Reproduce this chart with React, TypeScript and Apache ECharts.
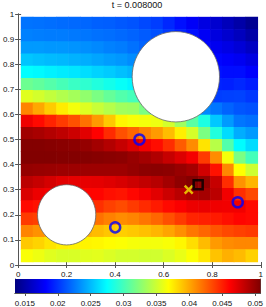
import React, { useEffect, useRef } from "react";
import * as echarts from "echarts";

const titleText = "t = 0.008000";

// cell centres of the sampled field (x left→right, y top→bottom)
const gridX = [0.037, 0.086, 0.134, 0.183, 0.232, 0.281, 0.329, 0.378, 0.427, 0.476, 0.524, 0.573, 0.622, 0.671, 0.719, 0.768, 0.817, 0.866, 0.914, 0.963];
const gridY = [0.963, 0.914, 0.866, 0.817, 0.768, 0.719, 0.671, 0.622, 0.573, 0.524, 0.476, 0.427, 0.378, 0.329, 0.281, 0.232, 0.183, 0.134, 0.086, 0.037];
const cellSize = 0.04875;

const fieldValues = [
  [0.0224, 0.0223, 0.0222, 0.0221, 0.0220, 0.0219, 0.0217, 0.0216, 0.0214, 0.0212, 0.0208, 0.0204, 0.0196, 0.0187, 0.0179, 0.0171, 0.0164, 0.0157, 0.0150, 0.0142],
  [0.0229, 0.0228, 0.0227, 0.0227, 0.0226, 0.0225, 0.0223, 0.0222, 0.0220, 0.0218, 0.0215, 0.0211, 0.0203, 0.0195, 0.0187, 0.0178, 0.0170, 0.0164, 0.0158, 0.0150],
  [0.0238, 0.0238, 0.0237, 0.0237, 0.0236, 0.0234, 0.0232, 0.0229, 0.0227, 0.0223, 0.0218, 0.0213, 0.0205, 0.0198, 0.0190, 0.0183, 0.0176, 0.0172, 0.0167, 0.0160],
  [0.0254, 0.0252, 0.0250, 0.0249, 0.0247, 0.0245, 0.0242, 0.0239, 0.0237, 0.0233, 0.0222, 0.0215, 0.0207, 0.0200, 0.0193, 0.0187, 0.0183, 0.0180, 0.0177, 0.0171],
  [0.0275, 0.0273, 0.0270, 0.0268, 0.0266, 0.0263, 0.0259, 0.0256, 0.0252, 0.0248, 0.0235, 0.0225, 0.0215, 0.0207, 0.0200, 0.0193, 0.0188, 0.0186, 0.0186, 0.0181],
  [0.0315, 0.0311, 0.0306, 0.0301, 0.0296, 0.0292, 0.0287, 0.0282, 0.0277, 0.0272, 0.0250, 0.0235, 0.0222, 0.0212, 0.0205, 0.0198, 0.0194, 0.0193, 0.0196, 0.0192],
  [0.0357, 0.0352, 0.0346, 0.0340, 0.0335, 0.0328, 0.0320, 0.0312, 0.0305, 0.0300, 0.0280, 0.0255, 0.0240, 0.0228, 0.0220, 0.0212, 0.0204, 0.0205, 0.0206, 0.0202],
  [0.0413, 0.0400, 0.0387, 0.0375, 0.0364, 0.0356, 0.0348, 0.0341, 0.0334, 0.0332, 0.0320, 0.0300, 0.0280, 0.0260, 0.0245, 0.0232, 0.0225, 0.0218, 0.0213, 0.0211],
  [0.0467, 0.0458, 0.0449, 0.0440, 0.0432, 0.0420, 0.0405, 0.0388, 0.0371, 0.0366, 0.0364, 0.0362, 0.0352, 0.0333, 0.0308, 0.0285, 0.0255, 0.0238, 0.0225, 0.0222],
  [0.0496, 0.0493, 0.0489, 0.0485, 0.0480, 0.0472, 0.0461, 0.0446, 0.0432, 0.0424, 0.0414, 0.0405, 0.0392, 0.0374, 0.0353, 0.0320, 0.0287, 0.0262, 0.0245, 0.0238],
  [0.0506, 0.0506, 0.0505, 0.0504, 0.0503, 0.0500, 0.0495, 0.0489, 0.0482, 0.0474, 0.0465, 0.0457, 0.0445, 0.0428, 0.0410, 0.0378, 0.0342, 0.0305, 0.0274, 0.0262],
  [0.0507, 0.0507, 0.0507, 0.0506, 0.0506, 0.0506, 0.0505, 0.0504, 0.0503, 0.0499, 0.0495, 0.0490, 0.0482, 0.0474, 0.0465, 0.0440, 0.0410, 0.0365, 0.0320, 0.0300],
  [0.0500, 0.0499, 0.0498, 0.0497, 0.0497, 0.0497, 0.0497, 0.0497, 0.0497, 0.0500, 0.0503, 0.0504, 0.0503, 0.0499, 0.0494, 0.0478, 0.0455, 0.0412, 0.0368, 0.0350],
  [0.0486, 0.0482, 0.0477, 0.0472, 0.0470, 0.0470, 0.0471, 0.0473, 0.0476, 0.0480, 0.0484, 0.0488, 0.0495, 0.0502, 0.0506, 0.0500, 0.0482, 0.0445, 0.0408, 0.0395],
  [0.0475, 0.0468, 0.0465, 0.0462, 0.0460, 0.0460, 0.0460, 0.0456, 0.0454, 0.0459, 0.0465, 0.0472, 0.0480, 0.0487, 0.0492, 0.0494, 0.0486, 0.0466, 0.0445, 0.0435],
  [0.0458, 0.0455, 0.0452, 0.0450, 0.0448, 0.0446, 0.0444, 0.0438, 0.0434, 0.0440, 0.0446, 0.0452, 0.0458, 0.0463, 0.0468, 0.0469, 0.0467, 0.0466, 0.0466, 0.0458],
  [0.0440, 0.0438, 0.0433, 0.0430, 0.0428, 0.0425, 0.0420, 0.0414, 0.0410, 0.0413, 0.0418, 0.0424, 0.0432, 0.0440, 0.0448, 0.0450, 0.0452, 0.0456, 0.0460, 0.0458],
  [0.0413, 0.0408, 0.0403, 0.0400, 0.0398, 0.0396, 0.0393, 0.0389, 0.0386, 0.0388, 0.0391, 0.0395, 0.0401, 0.0409, 0.0418, 0.0424, 0.0430, 0.0435, 0.0438, 0.0440],
  [0.0388, 0.0384, 0.0378, 0.0374, 0.0373, 0.0372, 0.0371, 0.0369, 0.0367, 0.0365, 0.0364, 0.0364, 0.0366, 0.0371, 0.0380, 0.0393, 0.0405, 0.0410, 0.0412, 0.0412],
  [0.0366, 0.0362, 0.0357, 0.0354, 0.0354, 0.0357, 0.0358, 0.0355, 0.0352, 0.0352, 0.0351, 0.0351, 0.0355, 0.0360, 0.0367, 0.0377, 0.0390, 0.0397, 0.0393, 0.0385],
];

// obstacles: [cx, cy, r]
const obstacles = [
  [0.2, 0.2, 0.12],
  [0.65, 0.75, 0.18],
];
const sensors = [
  [0.5, 0.5],
  [0.4, 0.15],
  [0.905, 0.25],
];
const estimate = [[0.703, 0.3]];
const truth = [[0.742, 0.32]];

const colorMin = 0.0135;
const colorMax = 0.0508;
const colorTicks = [0.015, 0.02, 0.025, 0.03, 0.035, 0.04, 0.045, 0.05];

const jet = ["#00007f", "#0000ff", "#007fff", "#00ffff", "#7fff7f", "#ffff00", "#ff7f00", "#ff0000", "#7f0000"];

const FONT = "Liberation Sans, Arial, sans-serif";
const AXIS_COLOR = "#555";

export default function App() {
  const ref = useRef<HTMLDivElement>(null);

  useEffect(() => {
    const chart = echarts.init(ref.current!, null, { renderer: "svg" });

    const heat: number[][] = [];
    gridY.forEach((y, r) => {
      gridX.forEach((x, c) => {
        heat.push([x, y, fieldValues[r][c]]);
      });
    });

    const fmt1 = (v: number) => String(Math.round(v * 10) / 10);

    const baseAxis = {
      axisLine: { show: true, lineStyle: { color: AXIS_COLOR, width: 1 } },
      axisTick: { show: true, inside: true, length: 3, lineStyle: { color: AXIS_COLOR, width: 1 } },
      splitLine: { show: false },
    };

    const option: any = {
      animation: false,
      backgroundColor: "#fff",
      graphic: [
        {
          type: "text",
          x: 137,
          y: 5,
          style: {
            text: titleText,
            fontSize: 9,
            fontFamily: FONT,
            fill: "#111",
            textAlign: "center",
            textVerticalAlign: "middle",
          },
        },
      ],
      grid: [
        { left: 15, top: 14, width: 248, height: 251 },
        { left: 15, top: 279, width: 248, height: 15 },
      ],
      xAxis: [
        {
          ...baseAxis,
          gridIndex: 0,
          type: "value",
          min: 0,
          max: 1,
          interval: 0.2,
          position: "bottom",
          axisLabel: { fontSize: 8, fontFamily: FONT, color: "#111", margin: 5, formatter: fmt1 },
        },
        {
          ...baseAxis,
          gridIndex: 0,
          type: "value",
          min: 0,
          max: 1,
          interval: 0.2,
          position: "top",
          axisLabel: { show: false },
        },
        {
          ...baseAxis,
          gridIndex: 1,
          type: "value",
          min: colorMin,
          max: colorMax,
          position: "bottom",
          axisTick: { ...baseAxis.axisTick, customValues: colorTicks },
          axisLabel: {
            fontSize: 8,
            fontFamily: FONT,
            color: "#111",
            margin: 6,
            customValues: colorTicks,
            formatter: (v: number) => String(Math.round(v * 1000) / 1000),
          },
        },
        {
          ...baseAxis,
          gridIndex: 1,
          type: "value",
          min: colorMin,
          max: colorMax,
          position: "top",
          axisTick: { ...baseAxis.axisTick, customValues: colorTicks },
          axisLabel: { show: false },
        },
      ],
      yAxis: [
        {
          ...baseAxis,
          gridIndex: 0,
          type: "value",
          min: 0,
          max: 1,
          interval: 0.1,
          position: "left",
          axisLabel: { fontSize: 8, fontFamily: FONT, color: "#111", margin: 4, formatter: fmt1 },
        },
        {
          ...baseAxis,
          gridIndex: 0,
          type: "value",
          min: 0,
          max: 1,
          interval: 0.1,
          position: "right",
          axisLabel: { show: false },
        },
        {
          ...baseAxis,
          gridIndex: 1,
          type: "value",
          min: 0,
          max: 1,
          position: "left",
          axisTick: { show: false },
          axisLabel: { show: false },
        },
        {
          ...baseAxis,
          gridIndex: 1,
          type: "value",
          min: 0,
          max: 1,
          position: "right",
          axisTick: { show: false },
          axisLabel: { show: false },
        },
      ],
      visualMap: {
        type: "continuous",
        show: false,
        seriesIndex: 0,
        dimension: 2,
        min: colorMin,
        max: colorMax,
        inRange: { color: jet },
      },
      series: [
        {
          type: "custom",
          xAxisIndex: 0,
          yAxisIndex: 0,
          z: 1,
          clip: true,
          encode: { x: 0, y: 1 },
          data: heat,
          renderItem: (params: any, api: any) => {
            const p = api.coord([api.value(0), api.value(1)]);
            const s = api.size([cellSize, cellSize]);
            return {
              type: "rect",
              shape: {
                x: p[0] - s[0] / 2 - 0.35,
                y: p[1] - s[1] / 2 - 0.35,
                width: s[0] + 0.7,
                height: s[1] + 0.7,
              },
              style: { fill: api.visual("color") },
            };
          },
        },
        {
          type: "custom",
          xAxisIndex: 0,
          yAxisIndex: 0,
          z: 2,
          encode: { x: 0, y: 1 },
          data: obstacles,
          renderItem: (params: any, api: any) => {
            const p = api.coord([api.value(0), api.value(1)]);
            const s = api.size([api.value(2), api.value(2)]);
            return {
              type: "ellipse",
              shape: { cx: p[0], cy: p[1], rx: s[0], ry: s[1] },
              style: { fill: "#ffffff", stroke: "#666", lineWidth: 0.8 },
            };
          },
        },
        {
          type: "scatter",
          xAxisIndex: 0,
          yAxisIndex: 0,
          z: 3,
          data: sensors,
          symbol: "circle",
          symbolSize: 10,
          itemStyle: { color: "transparent", borderColor: "#0000ff", borderWidth: 2.5 },
        },
        {
          type: "scatter",
          xAxisIndex: 0,
          yAxisIndex: 0,
          z: 3,
          data: estimate,
          symbol: "path://M0,0L10,10M10,0L0,10",
          symbolSize: 8,
          itemStyle: { color: "transparent", borderColor: "#f5e600", borderWidth: 2.5 },
        },
        {
          type: "scatter",
          xAxisIndex: 0,
          yAxisIndex: 0,
          z: 3,
          data: truth,
          symbol: "rect",
          symbolSize: 9,
          itemStyle: { color: "transparent", borderColor: "#000000", borderWidth: 2.5 },
        },
        {
          type: "custom",
          xAxisIndex: 2,
          yAxisIndex: 2,
          z: 1,
          encode: { x: [0, 1], y: 2 },
          data: [[colorMin, colorMax, 0]],
          renderItem: (params: any, api: any) => {
            const p0 = api.coord([api.value(0), 0]);
            const p1 = api.coord([api.value(1), 1]);
            return {
              type: "rect",
              shape: { x: p0[0], y: p1[1], width: p1[0] - p0[0], height: p0[1] - p1[1] },
              style: {
                fill: new echarts.graphic.LinearGradient(
                  0,
                  0,
                  1,
                  0,
                  jet.map((c, i) => ({ offset: i / (jet.length - 1), color: c }))
                ),
              },
            };
          },
        },
      ],
    };

    chart.setOption(option);
    return () => chart.dispose();
  }, []);

  return (
    <div
      ref={ref}
      style={{ position: "fixed", left: 0, top: 0, width: 266, height: 307, background: "#fff" }}
    />
  );
}
